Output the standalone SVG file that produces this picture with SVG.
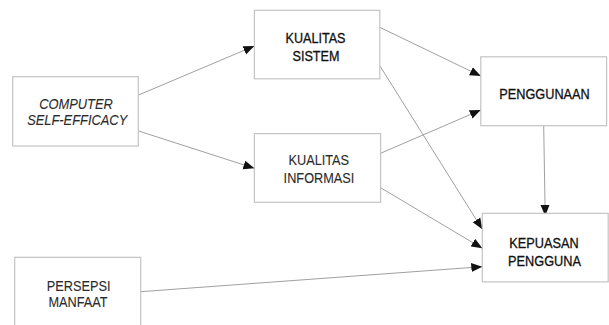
<svg xmlns="http://www.w3.org/2000/svg" width="609" height="325" viewBox="0 0 609 325">
<style>
.box{fill:#fff;stroke:#c4c4c4;stroke-width:1.2}
.t{font-family:"Liberation Sans",Arial,Helvetica,sans-serif;font-size:14px;text-anchor:middle}
.d{fill:#111;stroke:#111;stroke-width:0.3}
.l{fill:#2a2a2a;stroke:#2a2a2a;stroke-width:0.1}
.c{fill:none;stroke:#a0a0a0;stroke-width:1}
</style>
<defs>
<marker id="ah" markerUnits="userSpaceOnUse" markerWidth="12" markerHeight="10" viewBox="0 0 12 10" refX="11" refY="5" orient="auto">
<path d="M0,0.5 L11,5 L0,9.5 Z" fill="#111"/>
</marker>
</defs>
<rect width="609" height="325" fill="#fff"/>
<g id="connectors">
<line class="c" x1="138.6" y1="95" x2="254.4" y2="46" marker-end="url(#ah)"/>
<line class="c" x1="138.6" y1="131" x2="254.4" y2="168.3" marker-end="url(#ah)"/>
<line class="c" x1="379.8" y1="27.3" x2="480.8" y2="76" marker-end="url(#ah)"/>
<line class="c" x1="379.8" y1="65.7" x2="482.3" y2="229.3" marker-end="url(#ah)"/>
<line class="c" x1="380.6" y1="153.3" x2="480.8" y2="110" marker-end="url(#ah)"/>
<line class="c" x1="380.6" y1="187.7" x2="482.3" y2="248.3" marker-end="url(#ah)"/>
<line class="c" x1="543.7" y1="125.7" x2="545.2" y2="216" marker-end="url(#ah)"/>
<line class="c" x1="140.6" y1="291.7" x2="482.3" y2="266.7" marker-end="url(#ah)"/>
</g>
<g id="cse">
<rect class="box" x="12.7" y="76.7" width="125.6" height="69.3"/>
<text class="t l" font-style="italic" x="76" y="109" transform="translate(76 0) scale(0.92 1) translate(-76 0)">COMPUTER</text>
<text class="t l" font-style="italic" x="77.2" y="124.7" transform="translate(77.2 0) scale(0.92 1) translate(-77.2 0)">SELF-EFFICACY</text>
</g>
<g id="ks">
<rect class="box" x="254.4" y="10.3" width="125.4" height="68.5"/>
<text class="t d" x="315.5" y="43.3" transform="translate(315.5 0) scale(0.9 1) translate(-315.5 0)">KUALITAS</text>
<text class="t d" x="316" y="61" transform="translate(316 0) scale(0.9 1) translate(-316 0)">SISTEM</text>
</g>
<g id="ki">
<rect class="box" x="254.4" y="133.6" width="126.2" height="68.7"/>
<text class="t l" x="318.8" y="165" transform="translate(318.8 0) scale(0.91 1) translate(-318.8 0)">KUALITAS</text>
<text class="t l" x="319" y="182.7" transform="translate(319 0) scale(0.91 1) translate(-319 0)">INFORMASI</text>
</g>
<g id="penggunaan">
<rect class="box" x="480.8" y="56.8" width="125.8" height="68.9"/>
<text class="t d" x="544.5" y="98.5" transform="translate(544.5 0) scale(0.91 1) translate(-544.5 0)">PENGGUNAAN</text>
</g>
<g id="kepuasan">
<rect class="box" x="482.3" y="213.3" width="125.9" height="68.6"/>
<text class="t d" x="544" y="248.3" transform="translate(544 0) scale(0.91 1) translate(-544 0)">KEPUASAN</text>
<text class="t d" x="544.5" y="265.7" transform="translate(544.5 0) scale(0.91 1) translate(-544.5 0)">PENGGUNA</text>
</g>
<g id="persepsi">
<rect class="box" x="14.7" y="257.3" width="126" height="80"/>
<text class="t l" x="78.6" y="290.7" transform="translate(78.6 0) scale(0.91 1) translate(-78.6 0)">PERSEPSI</text>
<text class="t l" x="78" y="307.3" transform="translate(78 0) scale(0.91 1) translate(-78 0)">MANFAAT</text>
</g>
</svg>
